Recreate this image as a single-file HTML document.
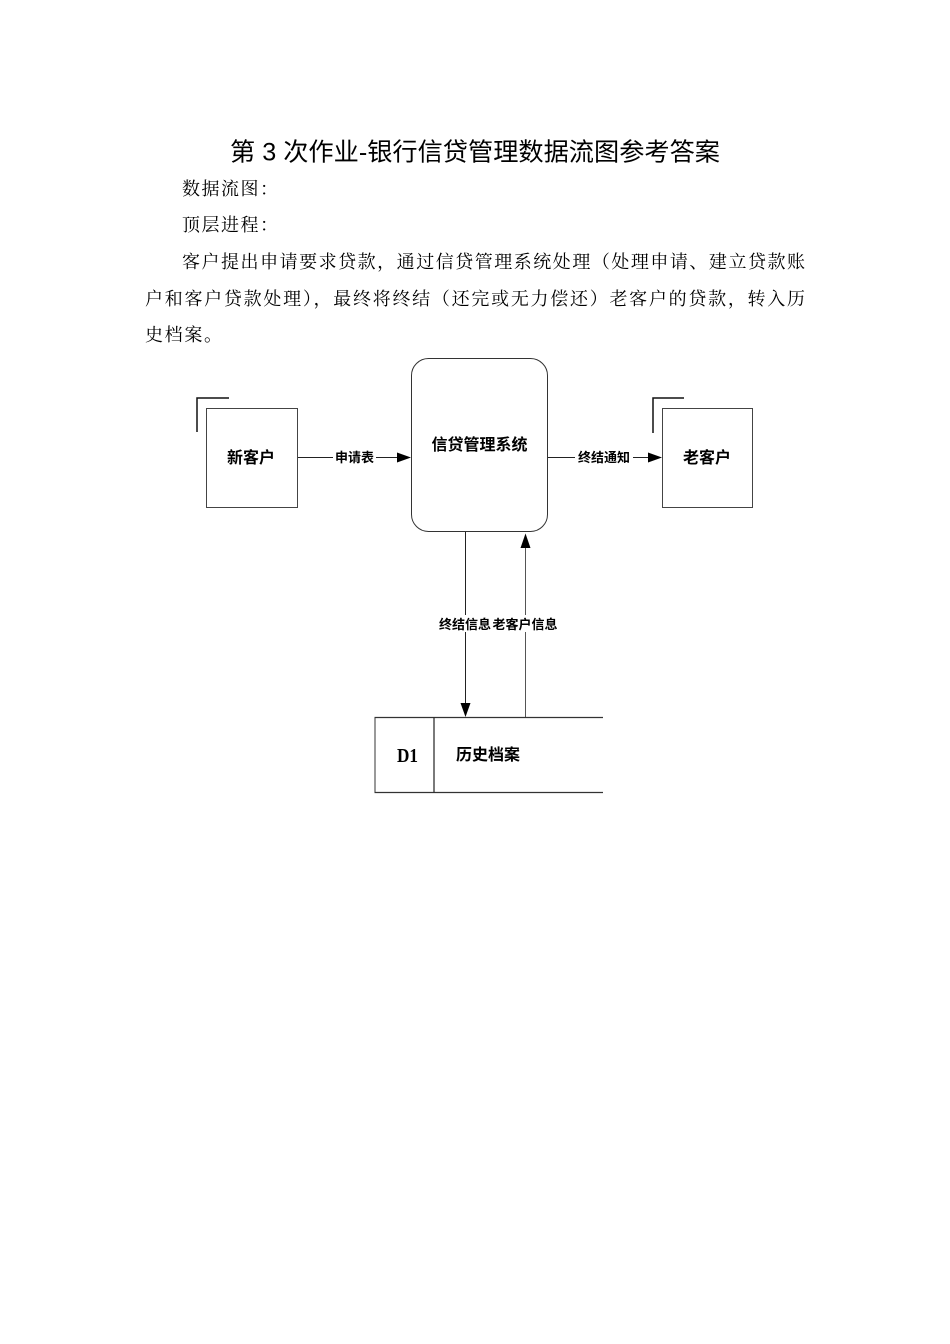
<!DOCTYPE html>
<html>
<head>
<meta charset="utf-8">
<style>
html,body{margin:0;padding:0;background:#fff;}
body{width:950px;height:1344px;overflow:hidden;}
svg{display:block;}
.t{font-family:"Liberation Sans","Noto Sans CJK SC",sans-serif;}
.s{font-family:"Liberation Serif","Noto Serif CJK SC",serif;}
.b{font-family:"Liberation Sans","Noto Sans CJK SC",sans-serif;font-weight:bold;}
</style>
</head>
<body>
<svg width="950" height="1344" viewBox="0 0 950 1344" xmlns="http://www.w3.org/2000/svg">
  <rect x="0" y="0" width="950" height="1344" fill="#fff"/>
  <!-- Title -->
  <text class="t" x="230" y="160.5" font-size="25" fill="#000" textLength="490" lengthAdjust="spacingAndGlyphs">第 3 次作业-银行信贷管理数据流图参考答案</text>
  <!-- Body -->
  <text class="s" x="182" y="195" font-size="18" fill="#000" textLength="96" lengthAdjust="spacing">数据流图：</text>
  <text class="s" x="182" y="231" font-size="18" fill="#000" textLength="96" lengthAdjust="spacing">顶层进程：</text>
  <text class="s" x="182" y="268" font-size="18" fill="#000" textLength="623" lengthAdjust="spacing">客户提出申请要求贷款，通过信贷管理系统处理（处理申请、建立贷款账</text>
  <text class="s" x="145" y="305" font-size="18" fill="#000" textLength="660" lengthAdjust="spacing">户和客户贷款处理），最终将终结（还完或无力偿还）老客户的贷款，转入历</text>
  <text class="s" x="145" y="341" font-size="18" fill="#000" textLength="77" lengthAdjust="spacing">史档案。</text>

  <!-- 新客户 external entity -->
  <path d="M197 432 V398 H229" fill="none" stroke="#111" stroke-width="1.5"/>
  <rect x="206.5" y="408.5" width="91" height="99" fill="#fff" stroke="#444" stroke-width="1"/>
  <text class="b" x="251" y="463" font-size="16" text-anchor="middle" fill="#000">新客户</text>

  <!-- 老客户 external entity -->
  <path d="M653 433 V398 H684" fill="none" stroke="#111" stroke-width="1.5"/>
  <rect x="662.5" y="408.5" width="90" height="99" fill="#fff" stroke="#444" stroke-width="1"/>
  <text class="b" x="707" y="463" font-size="16" text-anchor="middle" fill="#000">老客户</text>

  <!-- Process -->
  <rect x="411.5" y="358.5" width="136" height="173" rx="17" ry="17" fill="#fff" stroke="#333" stroke-width="1"/>
  <text class="b" x="479.5" y="450" font-size="16" text-anchor="middle" fill="#000">信贷管理系统</text>

  <!-- 申请表 flow -->
  <line x1="298" y1="457.5" x2="398" y2="457.5" stroke="#222" stroke-width="1"/>
  <polygon points="397,452.5 411,457.5 397,462.5" fill="#000"/>
  <rect x="333" y="449" width="43" height="16" fill="#fff"/>
  <text class="b" x="354.5" y="462" font-size="13" text-anchor="middle" fill="#000">申请表</text>

  <!-- 终结通知 flow -->
  <line x1="548" y1="457.5" x2="648" y2="457.5" stroke="#222" stroke-width="1"/>
  <polygon points="648,452.5 662,457.5 648,462.5" fill="#000"/>
  <rect x="575" y="449" width="58" height="16" fill="#fff"/>
  <text class="b" x="604" y="462" font-size="13" text-anchor="middle" fill="#000">终结通知</text>

  <!-- vertical flows -->
  <line x1="465.5" y1="532" x2="465.5" y2="704" stroke="#222" stroke-width="1"/>
  <polygon points="460.5,703 470.5,703 465.5,717" fill="#000"/>
  <line x1="525.5" y1="546" x2="525.5" y2="717" stroke="#555" stroke-width="1"/>
  <polygon points="520.5,548 530.5,548 525.5,533.5" fill="#000"/>
  <rect x="438" y="615" width="121" height="17" fill="#fff"/>
  <text class="b" x="465" y="629" font-size="13" text-anchor="middle" fill="#000">终结信息</text>
  <text class="b" x="525" y="629" font-size="13" text-anchor="middle" fill="#000">老客户信息</text>

  <!-- Data store -->
  <line x1="374.5" y1="717.5" x2="603" y2="717.5" stroke="#333" stroke-width="1.2"/>
  <line x1="374.5" y1="792.5" x2="603" y2="792.5" stroke="#333" stroke-width="1.2"/>
  <line x1="375" y1="717.5" x2="375" y2="792.5" stroke="#333" stroke-width="1"/>
  <line x1="434" y1="717.5" x2="434" y2="792.5" stroke="#222" stroke-width="1.2"/>
  <text class="s" x="397" y="762" font-size="20" font-weight="bold" fill="#000" textLength="21" lengthAdjust="spacingAndGlyphs">D1</text>
  <text class="b" x="456" y="760" font-size="16" fill="#000" font-weight="normal">历史档案</text>
</svg>
</body>
</html>
